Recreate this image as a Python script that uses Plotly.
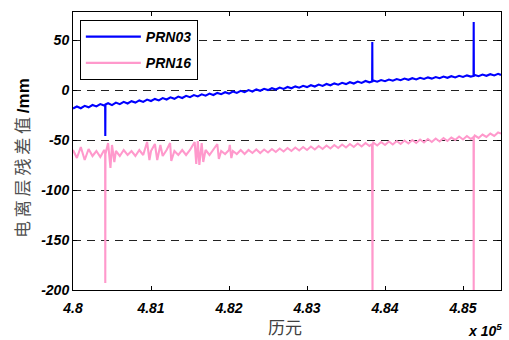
import plotly.graph_objects as go

# epochs (offset from 480000) and values
blue_t = [0, 50, 100, 150, 200, 250, 300, 350, 400, 412, 414, 416, 450, 500, 550, 600, 650, 700, 750, 800,
          850, 900, 950, 1000, 1050, 1100, 1150, 1200, 1250, 1300, 1350, 1400, 1450, 1500, 1550, 1600,
          1650, 1700, 1750, 1800, 1850, 1900, 1950, 2000, 2050, 2100, 2150, 2200, 2250, 2300, 2350, 2400,
          2450, 2500, 2550, 2600, 2650, 2700, 2750, 2800, 2850, 2900, 2950, 3000, 3050, 3100, 3150, 3200,
          3250, 3300, 3350, 3400, 3450, 3500, 3550, 3600, 3650, 3700, 3750, 3800, 3835, 3837, 3839, 3850,
          3900, 3950, 4000, 4050, 4100, 4150, 4200, 4250, 4300, 4350, 4400, 4450, 4500, 4550, 4600, 4650,
          4700, 4750, 4800, 4850, 4900, 4950, 5000, 5050, 5100, 5135, 5137, 5139, 5150, 5200, 5250, 5300,
          5350, 5400, 5450, 5487]
blue_v = [-18.5, -16.5, -18.2, -15.8, -17.3, -15.0, -16.4, -14.1, -15.6, -15.0, -46.0, -14.5, -13.2, -15.1,
          -12.6, -14.2, -11.9, -13.5, -11.2, -12.6, -10.4, -11.9, -9.6, -11.0, -8.9, -10.4, -8.1, -9.5,
          -7.3, -8.8, -6.6, -8.0, -5.8, -7.2, -5.1, -6.4, -4.3, -5.7, -3.6, -5.0, -2.9, -4.2, -2.2, -3.6,
          -1.5, -2.9, -0.8, -2.2, -0.1, -1.5, 0.6, -0.8, 1.2, -0.1, 1.8, 0.5, 2.4, 1.1, 3.0, 1.7, 3.6, 2.3,
          4.2, 2.9, 4.8, 3.5, 5.4, 4.1, 6.0, 4.7, 6.6, 5.3, 7.2, 5.9, 7.8, 6.5, 8.4, 7.1, 9.0, 7.7, 8.5,
          48.0, 8.2, 9.6, 8.3, 10.0, 8.8, 10.5, 9.3, 11.0, 9.8, 11.4, 10.2, 11.8, 10.6, 12.2, 11.0, 12.6,
          11.4, 13.0, 11.8, 13.4, 12.2, 13.8, 12.6, 14.2, 13.0, 14.6, 13.4, 14.0, 68.0, 13.8, 15.0, 13.8,
          15.4, 14.2, 15.8, 14.6, 16.2, 15.0]

pink_t = [0, 50, 100, 150, 200, 250, 300, 350, 400, 412, 414, 416, 450, 480, 500, 530, 550, 600, 650, 700,
          750, 800, 850, 900, 950, 980, 1000, 1050, 1080, 1100, 1120, 1150, 1200, 1245, 1260, 1300, 1350,
          1400, 1450, 1500, 1560, 1580, 1600, 1620, 1650, 1670, 1700, 1750, 1800, 1850, 1870, 1900, 1950,
          2000, 2010, 2030, 2050, 2100, 2150, 2200, 2250, 2300, 2350, 2400, 2450, 2500, 2550, 2600, 2650,
          2700, 2750, 2800, 2850, 2900, 2950, 3000, 3050, 3100, 3150, 3200, 3250, 3300, 3350, 3400, 3450,
          3500, 3550, 3600, 3650, 3700, 3750, 3800, 3834, 3836, 3838, 3840, 3842, 3850, 3900, 3950, 4000,
          4050, 4100, 4150, 4200, 4250, 4300, 4350, 4400, 4450, 4500, 4550, 4600, 4650, 4700, 4750, 4800,
          4850, 4900, 4950, 5000, 5050, 5100, 5135, 5137, 5139, 5150, 5200, 5250, 5300, 5350, 5400, 5450,
          5487]
pink_v = [-60, -68, -57, -70, -59, -66, -61, -67, -60, -62, -193, -64, -53, -78, -55, -72, -61, -66, -60,
          -65, -61, -66, -60, -65, -52, -70, -61, -54, -70, -62, -55, -66, -60, -53, -71, -61, -65, -60,
          -65, -60, -52, -74, -51, -75, -53, -72, -60, -65, -60, -54, -69, -61, -64, -60, -55, -68, -61,
          -64, -60, -64, -60, -63, -59.5, -63, -59.5, -62.5, -59, -62, -58.5, -61.5, -58, -61, -57.5,
          -60.5, -57, -60, -56.5, -59.5, -56, -59, -55.5, -58.5, -55, -58, -54.5, -57.5, -54, -57, -53.5,
          -56.5, -53, -56, -54, -210, -210, -210, -55, -52.5, -55.5, -52, -55, -51.5, -54.5, -51, -54,
          -50.5, -53.5, -50, -53, -49.5, -52.5, -49, -52, -48.5, -51.5, -48, -51, -47.5, -50, -46.5, -49.5,
          -46, -49, -47, -210, -47, -45.5, -48, -44.5, -47, -43.5, -46, -42.5, -43.5]

x_base = 480000
x_ticks = [480000, 481000, 482000, 483000, 484000, 485000]
x_labels = ["4.8", "4.81", "4.82", "4.83", "4.84", "4.85"]
y_ticks = [-200, -150, -100, -50, 0, 50]
y_labels = ["-200", "-150", "-100", "-50", "0", "50"]

tick_font = dict(family="Liberation Sans, Arial", size=14, color="black", weight="bold", style="italic")

fig = go.Figure()
fig.add_trace(go.Scatter(x=[x_base + t for t in blue_t], y=blue_v, mode="lines", name="PRN03",
                         legendgroup="a", line=dict(color="#0000ff", width=2.1)))
fig.add_trace(go.Scatter(x=[x_base + t for t in pink_t], y=pink_v, mode="lines", name="PRN16",
                         legendgroup="b", line=dict(color="#ff99cc", width=2.1)))

fig.update_layout(
    width=509, height=340,
    margin=dict(l=73, r=8, t=12, b=50),
    plot_bgcolor="white", paper_bgcolor="white",
    showlegend=True,
    legend=dict(x=0.016, y=0.971, xanchor="left", yanchor="top",
                bordercolor="black", borderwidth=1, bgcolor="white",
                font=tick_font, tracegroupgap=5, itemwidth=55),
    xaxis=dict(range=[480000, 485487], tickvals=x_ticks, ticktext=x_labels,
               ticks="inside", ticklen=4, tickcolor="black", showline=True, linecolor="black",
               linewidth=1, mirror="ticks", showgrid=False, zeroline=False,
               tickfont=tick_font, ticklabelstandoff=5),
    yaxis=dict(range=[-200, 78], tickvals=y_ticks, ticktext=y_labels,
               ticks="inside", ticklen=4, tickcolor="black", showline=True, linecolor="black",
               linewidth=1, mirror="ticks", showgrid=True, gridcolor="#222222", gridwidth=1,
               griddash="8px,6px", zeroline=False, tickfont=tick_font),
    annotations=[
        dict(text="历元", xref="paper", yref="paper", x=(285 - 73) / 428, y=-(326 - 290) / 278,
             showarrow=False, xanchor="center", yanchor="middle",
             font=dict(family="Noto Sans CJK SC", size=17, color="#404040")),
        dict(text="电 离 层 残 差 值 <b><span style='color:black;font-family:Liberation Sans'>/mm</span></b>",
             xref="paper", yref="paper", x=-(73 - 21) / 428,
             y=1 - (158 - 12) / 278,
             showarrow=False, xanchor="center", yanchor="middle", textangle=-90,
             font=dict(family="Noto Sans CJK SC", size=17, color="#505050")),
        dict(text="x 10<sup>5</sup>", xref="paper", yref="paper", x=(485 - 73) / 428, y=-(330 - 290) / 278,
             showarrow=False, xanchor="center", yanchor="middle",
             font=dict(family="Liberation Sans, Arial", size=14, color="black", weight="bold", style="italic")),
    ],
)

fig.write_html("out.html")
